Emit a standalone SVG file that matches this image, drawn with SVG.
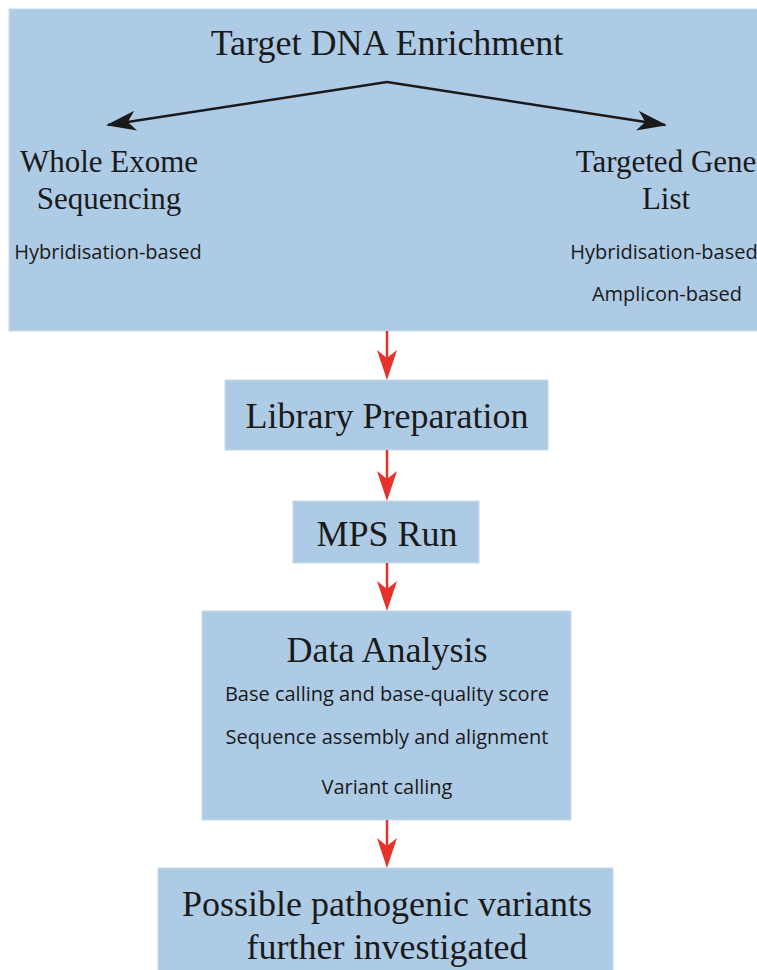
<svg xmlns="http://www.w3.org/2000/svg" width="757" height="970" viewBox="0 0 757 970">
<defs>
<style>
.box{fill:#aecbe6;stroke:#c5daee;stroke-width:1}
.serif{font-family:"Liberation Serif","Times New Roman",serif;fill:#1a1a1a;text-anchor:middle;font-size:36px}
.side{font-size:31px}
.sans{font-family:"Open Sans","Liberation Sans",sans-serif;fill:#1a1a1a;text-anchor:middle;font-size:20px}
.red{stroke:#e5322b;stroke-width:2.5;fill:none}
.blk{stroke:#1a1a1a;stroke-width:2.5;fill:none}
.rh{fill:#e5322b}
</style>
<marker id="ah-blk" viewBox="0 0 30 20" refX="28" refY="10" markerWidth="30" markerHeight="20" markerUnits="userSpaceOnUse" orient="auto">
<path d="M0,0 L30,10 L0,20 L8,10 Z" fill="#1a1a1a"/>
</marker>
</defs>

<g id="node-target">
<rect class="box" x="9" y="9" width="760" height="322"/>
<text class="serif" x="387" y="55">Target DNA Enrichment</text>
<text class="serif side" x="109" y="172">Whole Exome</text>
<text class="serif side" x="109" y="209">Sequencing</text>
<text class="sans" x="108" y="259">Hybridisation-based</text>
<text class="serif side" x="666" y="172">Targeted Gene</text>
<text class="serif side" x="666" y="209">List</text>
<text class="sans" x="664" y="259">Hybridisation-based</text>
<text class="sans" x="667" y="301">Amplicon-based</text>
</g>

<g id="node-library">
<rect class="box" x="225" y="380" width="323" height="70"/>
<text class="serif" x="387" y="428">Library Preparation</text>
</g>

<g id="node-mps">
<rect class="box" x="293" y="501" width="186" height="62"/>
<text class="serif" x="387" y="546">MPS Run</text>
</g>

<g id="node-analysis">
<rect class="box" x="202" y="611" width="369" height="209"/>
<text class="serif" x="387" y="662">Data Analysis</text>
<text class="sans" x="387" y="701">Base calling and base-quality score</text>
<text class="sans" x="387" y="744">Sequence assembly and alignment</text>
<text class="sans" x="387" y="794">Variant calling</text>
</g>

<g id="node-variants">
<rect class="box" x="158" y="868" width="455" height="110"/>
<text class="serif" x="387" y="916">Possible pathogenic variants</text>
<text class="serif" x="387" y="959">further investigated</text>
</g>

<g id="connectors">
<path class="blk" d="M387,82 L108,125" marker-end="url(#ah-blk)"/>
<path class="blk" d="M387,82 L665,125" marker-end="url(#ah-blk)"/>
<path class="red" d="M387,331 L387,372"/>
<path class="rh" d="M377,350 L387,358 L397,350 L387,380 Z"/>
<path class="red" d="M387,450 L387,493"/>
<path class="rh" d="M377,471 L387,479 L397,471 L387,501 Z"/>
<path class="red" d="M387,563 L387,603"/>
<path class="rh" d="M377,581 L387,589 L397,581 L387,611 Z"/>
<path class="red" d="M387,820 L387,860"/>
<path class="rh" d="M377,838 L387,846 L397,838 L387,868 Z"/>
</g>
</svg>
